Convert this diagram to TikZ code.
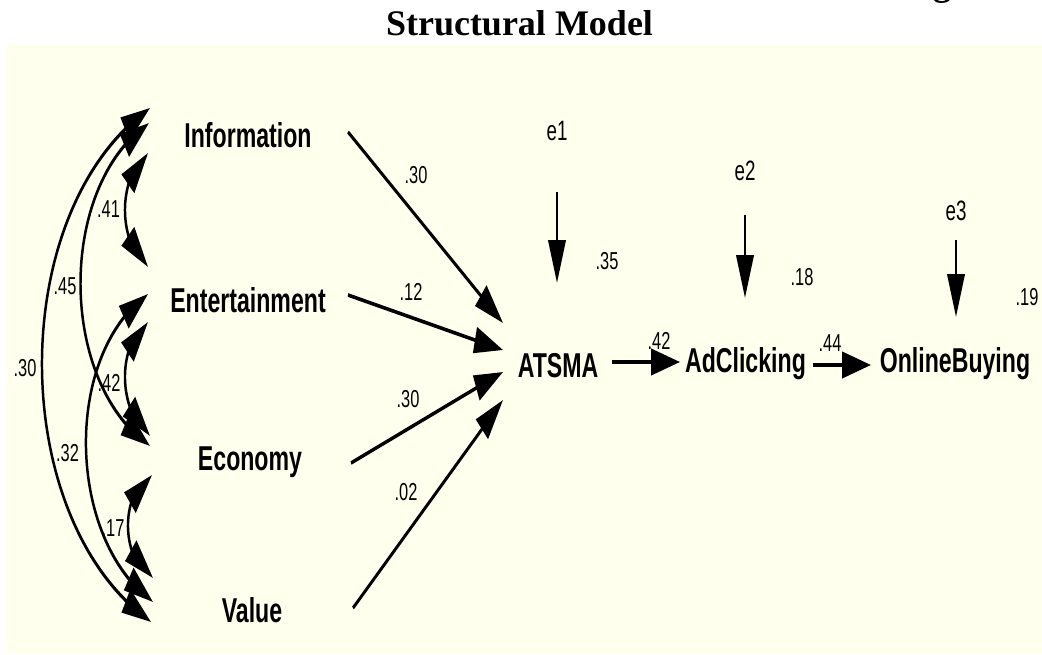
\documentclass[tikz,border=0pt]{standalone}
\usepackage{fontspec}
\setmainfont{Liberation Serif}
\setsansfont{Liberation Sans}
\usetikzlibrary{arrows.meta,bending}
\definecolor{bgivory}{RGB}{255,255,238}
\tikzset{
  varlab/.style={font=\sffamily\bfseries\fontsize{34.5}{40}\selectfont, inner sep=0pt, anchor=base},
  errlab/.style={font=\sffamily\fontsize{28}{32}\selectfont, inner sep=0pt, anchor=base},
  estlab/.style={font=\sffamily\fontsize{24.5}{28}\selectfont, inner sep=0pt},
  amostip/.tip={Triangle[length=43pt,width=26pt]},
  regarrow/.style={line width=3.7pt, -amostip},
  covarc/.style={line width=3.7pt, amostip-amostip},
}
\begin{document}
\begin{tikzpicture}[x=1pt,y=-1pt]
\useasboundingbox (0,0) rectangle (1042,654);
\fill[white] (0,0) rectangle (1042,654);
\fill[bgivory] (7,45) rectangle (1042,654);
\node[font=\bfseries\fontsize{36}{40}\selectfont, anchor=base, inner sep=0pt] (title) at (519.5,35) {Structural Model};
\node[font=\bfseries\fontsize{36}{40}\selectfont, anchor=base, inner sep=0pt] (cutg) at (942,-4.6) {g};

\begin{scope}[transform canvas={xscale=0.67}, x=1.49254pt, y=-1pt]
  % variables
  \node[varlab] (inf) at (248,147) {Information};
  \node[varlab] (ent) at (248,312) {Entertainment};
  \node[varlab] (eco) at (250,470) {Economy};
  \node[varlab] (val) at (252,622) {Value};
  \node[varlab] (atsma) at (558,377) {ATSMA};
  \node[varlab] (adc) at (745.5,372) {AdClicking};
  \node[varlab] (onb) at (955,372) {OnlineBuying};
  \node[errlab] (e1) at (557,140) {e1};
  \node[errlab] (e2) at (745,180) {e2};
  \node[errlab] (e3) at (956,220) {e3};

  % ports of the exogenous variables (covariance ends)
  \coordinate (i1) at (150,108); \coordinate (i2) at (149,123); \coordinate (i3) at (148,153);
  \coordinate (n1) at (148,267); \coordinate (n2) at (148,294); \coordinate (n3) at (148,322);
  \coordinate (c1) at (150,436); \coordinate (c2) at (150,446); \coordinate (c3) at (152,475);
  \coordinate (v1) at (153,578); \coordinate (v2) at (153,602); \coordinate (v3) at (151,622);
  % ports for regression paths
  \coordinate (io) at (348,132); \coordinate (no) at (348,295);
  \coordinate (co) at (351,463); \coordinate (vo) at (353,608);
  \coordinate (a1) at (503,323); \coordinate (a2) at (503,350);
  \coordinate (a3) at (503,372); \coordinate (a4) at (503,400);
  \coordinate (e1o) at (557,192); \coordinate (a0) at (557,283);
  \coordinate (e2o) at (745,215); \coordinate (d0) at (745,298);
  \coordinate (e3o) at (956,240); \coordinate (o0) at (956,317);
  \coordinate (ao) at (612,362); \coordinate (di) at (680,362);
  \coordinate (do) at (813,365); \coordinate (oi) at (871,365);

  % covariances
  \draw[covarc] (i1) .. controls +(-144.7,103.3) and +(-144.7,-103.3) .. (v3);
  \draw[covarc] (i2) .. controls +(-92,63.9) and +(-92,-63.9) .. (c2);
  \draw[covarc] (i3) .. controls +(-30.7,24.2) and +(-30.7,-24.2) .. (n1);
  \draw[covarc] (n2) .. controls +(-86,62.5) and +(-86,-62.5) .. (v2);
  \draw[covarc] (n3) .. controls +(-32,23) and +(-32,-23) .. (c1);
  \draw[covarc] (c3) .. controls +(-32.7,17) and +(-32.7,-17) .. (v1);

  % regressions
  \draw[regarrow] (io) -- (a1);
  \draw[regarrow] (no) -- (a2);
  \draw[regarrow] (co) -- (a3);
  \draw[regarrow] (vo) -- (a4);
  \draw[regarrow] (e1o) -- (a0);
  \draw[regarrow] (e2o) -- (d0);
  \draw[regarrow] (e3o) -- (o0);
  \draw[regarrow] (ao) -- (di);
  \draw[regarrow] (do) -- (oi);

  % estimates
  \node[estlab] (k41) at (108.5,209) {.41};
  \node[estlab] (k45) at (65,286.5) {.45};
  \node[estlab] (k30) at (25,368) {.30};
  \node[estlab] (k42) at (109,382.5) {.42};
  \node[estlab] (k32) at (67.5,453) {.32};
  \node[estlab] (k17) at (113,528) {.17};
  \node[estlab] (b1) at (416,175) {.30};
  \node[estlab] (b2) at (411,292) {.12};
  \node[estlab] (b3) at (408,399) {.30};
  \node[estlab] (b4) at (406,492) {.02};
  \node[estlab] (r1) at (607,261) {.35};
  \node[estlab] (r2) at (802,277) {.18};
  \node[estlab] (r3) at (1027,297) {.19};
  \node[estlab] (b5) at (659,341) {.42};
  \node[estlab] (b6) at (830,343) {.44};
\end{scope}
\end{tikzpicture}
\end{document}
